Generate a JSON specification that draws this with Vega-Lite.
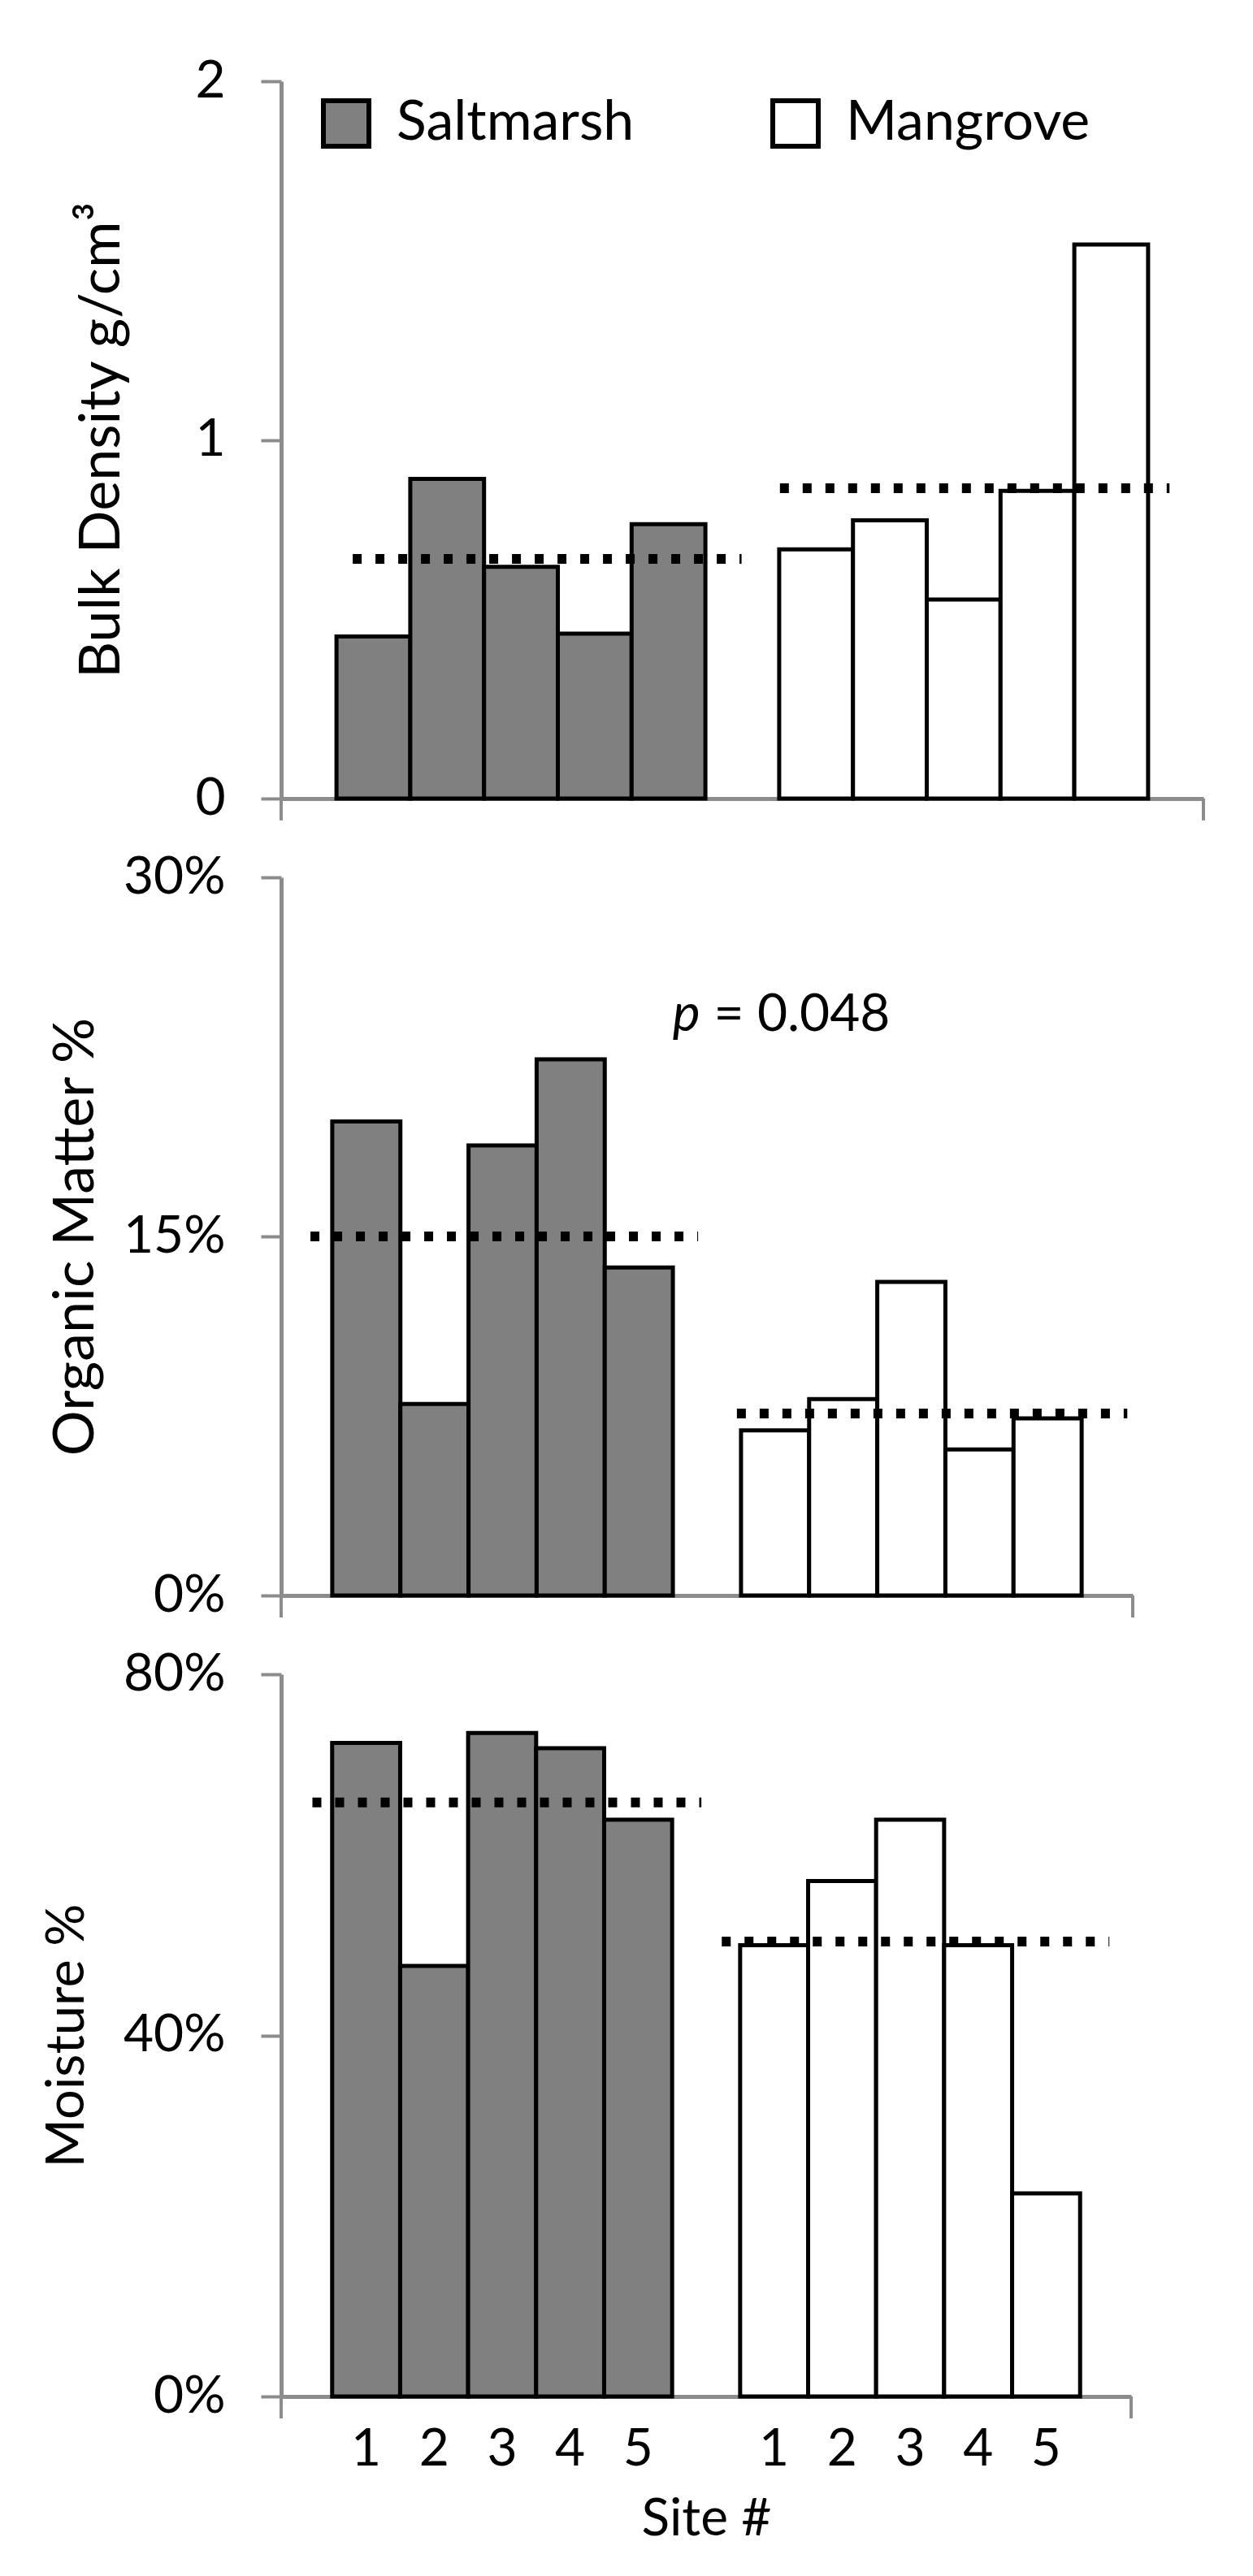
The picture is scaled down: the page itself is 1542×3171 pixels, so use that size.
{
  "$schema": "https://vega.github.io/schema/vega-lite/v6.json",
  "background": "white",
  "padding": {"left": 50, "top": 68, "right": 20, "bottom": 20},
  "config": {
    "font": "Lato",
    "view": {"stroke": null},
    "axis": {
      "grid": false,
      "domainColor": "#8c8c8c",
      "domainWidth": 5,
      "tickColor": "#8c8c8c",
      "tickWidth": 4,
      "labelFont": "Lato",
      "labelFontSize": 64,
      "labelColor": "#000000",
      "labelOverlap": false,
      "titleFont": "Lato",
      "titleFontSize": 64,
      "titleFontWeight": "normal",
      "titleColor": "#000000",
      "zindex": 1
    }
  },
  "datasets": {
    "bars": [
      {"panel": "bd", "habitat": "Saltmarsh", "site": 1, "slot": "S1", "value": 0.452},
      {"panel": "bd", "habitat": "Saltmarsh", "site": 2, "slot": "S2", "value": 0.891},
      {"panel": "bd", "habitat": "Saltmarsh", "site": 3, "slot": "S3", "value": 0.646},
      {"panel": "bd", "habitat": "Saltmarsh", "site": 4, "slot": "S4", "value": 0.46},
      {"panel": "bd", "habitat": "Saltmarsh", "site": 5, "slot": "S5", "value": 0.765},
      {"panel": "bd", "habitat": "Mangrove", "site": 1, "slot": "M1", "value": 0.695},
      {"panel": "bd", "habitat": "Mangrove", "site": 2, "slot": "M2", "value": 0.776},
      {"panel": "bd", "habitat": "Mangrove", "site": 3, "slot": "M3", "value": 0.555},
      {"panel": "bd", "habitat": "Mangrove", "site": 4, "slot": "M4", "value": 0.858},
      {"panel": "bd", "habitat": "Mangrove", "site": 5, "slot": "M5", "value": 1.545},
      {"panel": "om", "habitat": "Saltmarsh", "site": 1, "slot": "S1", "value": 0.198},
      {"panel": "om", "habitat": "Saltmarsh", "site": 2, "slot": "S2", "value": 0.08},
      {"panel": "om", "habitat": "Saltmarsh", "site": 3, "slot": "S3", "value": 0.188},
      {"panel": "om", "habitat": "Saltmarsh", "site": 4, "slot": "S4", "value": 0.224},
      {"panel": "om", "habitat": "Saltmarsh", "site": 5, "slot": "S5", "value": 0.137},
      {"panel": "om", "habitat": "Mangrove", "site": 1, "slot": "M1", "value": 0.069},
      {"panel": "om", "habitat": "Mangrove", "site": 2, "slot": "M2", "value": 0.082},
      {"panel": "om", "habitat": "Mangrove", "site": 3, "slot": "M3", "value": 0.131},
      {"panel": "om", "habitat": "Mangrove", "site": 4, "slot": "M4", "value": 0.061},
      {"panel": "om", "habitat": "Mangrove", "site": 5, "slot": "M5", "value": 0.074},
      {"panel": "mo", "habitat": "Saltmarsh", "site": 1, "slot": "S1", "value": 0.724},
      {"panel": "mo", "habitat": "Saltmarsh", "site": 2, "slot": "S2", "value": 0.477},
      {"panel": "mo", "habitat": "Saltmarsh", "site": 3, "slot": "S3", "value": 0.735},
      {"panel": "mo", "habitat": "Saltmarsh", "site": 4, "slot": "S4", "value": 0.718},
      {"panel": "mo", "habitat": "Saltmarsh", "site": 5, "slot": "S5", "value": 0.639},
      {"panel": "mo", "habitat": "Mangrove", "site": 1, "slot": "M1", "value": 0.5},
      {"panel": "mo", "habitat": "Mangrove", "site": 2, "slot": "M2", "value": 0.571},
      {"panel": "mo", "habitat": "Mangrove", "site": 3, "slot": "M3", "value": 0.639},
      {"panel": "mo", "habitat": "Mangrove", "site": 4, "slot": "M4", "value": 0.5},
      {"panel": "mo", "habitat": "Mangrove", "site": 5, "slot": "M5", "value": 0.225}
    ],
    "means": [
      {"panel": "bd", "habitat": "Saltmarsh", "mean": 0.668},
      {"panel": "bd", "habitat": "Mangrove", "mean": 0.865},
      {"panel": "om", "habitat": "Saltmarsh", "mean": 0.15},
      {"panel": "om", "habitat": "Mangrove", "mean": 0.076},
      {"panel": "mo", "habitat": "Saltmarsh", "mean": 0.658},
      {"panel": "mo", "habitat": "Mangrove", "mean": 0.504}
    ]
  },
  "bounds": "flush",
  "spacing": 97,
  "resolve": {"scale": {"x": "independent", "y": "independent"}, "legend": {"color": "independent"}},
  "vconcat": [
    {
      "width": 1135,
      "height": 883,
      "layer": [
        {
          "data": {"name": "bars"},
          "transform": [{"filter": "datum.panel === 'bd'"}],
          "mark": {"type": "bar", "stroke": "#000000", "strokeWidth": 5},
          "encoding": {
            "x": {
              "field": "slot", "type": "nominal",
              "scale": {"type": "band", "domain": ["S1", "S2", "S3", "S4", "S5", "gap", "M1", "M2", "M3", "M4", "M5"], "paddingInner": 0, "paddingOuter": 0.75},
              "axis": {"title": null, "labels": false, "ticks": false}
            },
            "y": {
              "field": "value", "type": "quantitative", "stack": null,
              "scale": {"domain": [0, 2], "nice": false},
              "axis": {"values": [0, 1, 2], "format": ".0f", "title": "Bulk Density g/cm³", "titleFontSize": 70, "tickSize": 25, "labelPadding": 44, "titlePadding": 78}
            },
            "color": {
              "field": "habitat", "type": "nominal",
              "scale": {"domain": ["Saltmarsh", "Mangrove"], "range": ["#808080", "#ffffff"]},
              "legend": {
                "title": null, "orient": "none", "legendX": 46, "legendY": 18, "direction": "horizontal",
                "symbolType": "square", "symbolSize": 3136, "symbolStrokeWidth": 6, "symbolOpacity": 1,
                "labelFont": "Lato", "labelFontSize": 68, "labelColor": "#000000", "labelOffset": 28, "columnPadding": 158, "labelLimit": 0,
                "encode": {"symbols": {"update": {"stroke": {"signal": "datum.value === 'Saltmarsh' ? '#808080' : '#000000'"}}}}
              }
            }
          }
        },
        {
          "data": {"name": "means"},
          "transform": [{"filter": "datum.panel === 'bd' && datum.habitat === 'Saltmarsh'"}],
          "mark": {"type": "rule", "color": "#000000", "strokeWidth": 12, "strokeDash": [11, 17]},
          "encoding": {
            "x": {"datum": "S1", "bandPosition": 0.22},
            "x2": {"datum": "gap", "bandPosition": 0.49},
            "y": {"field": "mean", "type": "quantitative"}
          }
        },
        {
          "data": {"name": "means"},
          "transform": [{"filter": "datum.panel === 'bd' && datum.habitat === 'Mangrove'"}],
          "mark": {"type": "rule", "color": "#000000", "strokeWidth": 12, "strokeDash": [11, 17]},
          "encoding": {
            "x": {"datum": "M1", "bandPosition": 0.01},
            "x2": {"datum": "M5", "bandPosition": 1.29},
            "y": {"field": "mean", "type": "quantitative"}
          }
        },
        {
          "data": {"values": [{}]},
          "mark": {"type": "rule", "color": "#8c8c8c", "strokeWidth": 4},
          "encoding": {
            "x": {"datum": "M5", "bandPosition": 1.75},
            "y": {"datum": 0},
            "y2": {"datum": -0.061}
          }
        },
        {
          "data": {"values": [{}]},
          "mark": {"type": "rule", "color": "#8c8c8c", "strokeWidth": 4},
          "encoding": {
            "x": {"datum": "S1", "bandPosition": -0.75},
            "y": {"datum": 0},
            "y2": {"datum": -0.061}
          }
        }
      ]
    },
    {
      "width": 1048,
      "height": 884,
      "layer": [
        {
          "data": {"name": "bars"},
          "transform": [{"filter": "datum.panel === 'om'"}],
          "mark": {"type": "bar", "stroke": "#000000", "strokeWidth": 5},
          "encoding": {
            "x": {
              "field": "slot", "type": "nominal",
              "scale": {"type": "band", "domain": ["S1", "S2", "S3", "S4", "S5", "gap", "M1", "M2", "M3", "M4", "M5"], "paddingInner": 0, "paddingOuter": 0.75},
              "axis": {"title": null, "labels": false, "ticks": false}
            },
            "y": {
              "field": "value", "type": "quantitative", "stack": null,
              "scale": {"domain": [0, 0.3], "nice": false},
              "axis": {"values": [0, 0.15, 0.3], "format": ".0%", "title": "Organic Matter %", "titleFontSize": 70, "tickSize": 25, "labelPadding": 44, "titlePadding": 22}
            },
            "color": {
              "field": "habitat", "type": "nominal",
              "scale": {"domain": ["Saltmarsh", "Mangrove"], "range": ["#808080", "#ffffff"]},
              "legend": null
            }
          }
        },
        {
          "data": {"name": "means"},
          "transform": [{"filter": "datum.panel === 'om' && datum.habitat === 'Saltmarsh'"}],
          "mark": {"type": "rule", "color": "#000000", "strokeWidth": 12, "strokeDash": [11, 17]},
          "encoding": {
            "x": {"datum": "S1", "bandPosition": -0.32},
            "x2": {"datum": "gap", "bandPosition": 0.37},
            "y": {"field": "mean", "type": "quantitative"}
          }
        },
        {
          "data": {"name": "means"},
          "transform": [{"filter": "datum.panel === 'om' && datum.habitat === 'Mangrove'"}],
          "mark": {"type": "rule", "color": "#000000", "strokeWidth": 12, "strokeDash": [11, 17]},
          "encoding": {
            "x": {"datum": "M1", "bandPosition": -0.06},
            "x2": {"datum": "M5", "bandPosition": 1.67},
            "y": {"field": "mean", "type": "quantitative"}
          }
        },
        {
          "data": {"values": [{}]},
          "mark": {"type": "text", "text": "p", "font": "Lato", "fontSize": 64, "fontStyle": "italic", "align": "right", "baseline": "alphabetic", "color": "#000000"},
          "encoding": {
            "x": {"datum": "gap", "bandPosition": 0.4},
            "y": {"datum": 0.236}
          }
        },
        {
          "data": {"values": [{}]},
          "mark": {"type": "text", "text": "= 0.048", "font": "Lato", "fontSize": 64, "align": "left", "baseline": "alphabetic", "color": "#000000"},
          "encoding": {
            "x": {"datum": "gap", "bandPosition": 0.6},
            "y": {"datum": 0.236}
          }
        },
        {
          "data": {"values": [{}]},
          "mark": {"type": "rule", "color": "#8c8c8c", "strokeWidth": 4},
          "encoding": {
            "x": {"datum": "M5", "bandPosition": 1.75},
            "y": {"datum": 0},
            "y2": {"datum": -0.0092}
          }
        },
        {
          "data": {"values": [{}]},
          "mark": {"type": "rule", "color": "#8c8c8c", "strokeWidth": 4},
          "encoding": {
            "x": {"datum": "S1", "bandPosition": -0.75},
            "y": {"datum": 0},
            "y2": {"datum": -0.0092}
          }
        }
      ]
    },
    {
      "width": 1046,
      "height": 889,
      "layer": [
        {
          "data": {"name": "bars"},
          "transform": [{"filter": "datum.panel === 'mo'"}],
          "mark": {"type": "bar", "stroke": "#000000", "strokeWidth": 5},
          "encoding": {
            "x": {
              "field": "slot", "type": "nominal",
              "scale": {"type": "band", "domain": ["S1", "S2", "S3", "S4", "S5", "gap", "M1", "M2", "M3", "M4", "M5"], "paddingInner": 0, "paddingOuter": 0.75},
              "axis": {"title": "Site #", "ticks": false, "labelAngle": 0, "labelPadding": 33, "titlePadding": 22, "labelExpr": "datum.value === 'gap' ? '' : substring(datum.value, 1)"}
            },
            "y": {
              "field": "value", "type": "quantitative", "stack": null,
              "scale": {"domain": [0, 0.8], "nice": false},
              "axis": {"values": [0, 0.4, 0.8], "format": ".0%", "title": "Moisture %", "titleFontSize": 65, "tickSize": 25, "labelPadding": 44, "titlePadding": 35}
            },
            "color": {
              "field": "habitat", "type": "nominal",
              "scale": {"domain": ["Saltmarsh", "Mangrove"], "range": ["#808080", "#ffffff"]},
              "legend": null
            }
          }
        },
        {
          "data": {"name": "means"},
          "transform": [{"filter": "datum.panel === 'mo' && datum.habitat === 'Saltmarsh'"}],
          "mark": {"type": "rule", "color": "#000000", "strokeWidth": 12, "strokeDash": [11, 17]},
          "encoding": {
            "x": {"datum": "S1", "bandPosition": -0.29},
            "x2": {"datum": "gap", "bandPosition": 0.43},
            "y": {"field": "mean", "type": "quantitative"}
          }
        },
        {
          "data": {"name": "means"},
          "transform": [{"filter": "datum.panel === 'mo' && datum.habitat === 'Mangrove'"}],
          "mark": {"type": "rule", "color": "#000000", "strokeWidth": 12, "strokeDash": [11, 17]},
          "encoding": {
            "x": {"datum": "M1", "bandPosition": -0.27},
            "x2": {"datum": "M5", "bandPosition": 1.43},
            "y": {"field": "mean", "type": "quantitative"}
          }
        },
        {
          "data": {"values": [{}]},
          "mark": {"type": "rule", "color": "#8c8c8c", "strokeWidth": 4},
          "encoding": {
            "x": {"datum": "M5", "bandPosition": 1.75},
            "y": {"datum": 0},
            "y2": {"datum": -0.0243}
          }
        },
        {
          "data": {"values": [{}]},
          "mark": {"type": "rule", "color": "#8c8c8c", "strokeWidth": 4},
          "encoding": {
            "x": {"datum": "S1", "bandPosition": -0.75},
            "y": {"datum": 0},
            "y2": {"datum": -0.0243}
          }
        }
      ]
    }
  ]
}
